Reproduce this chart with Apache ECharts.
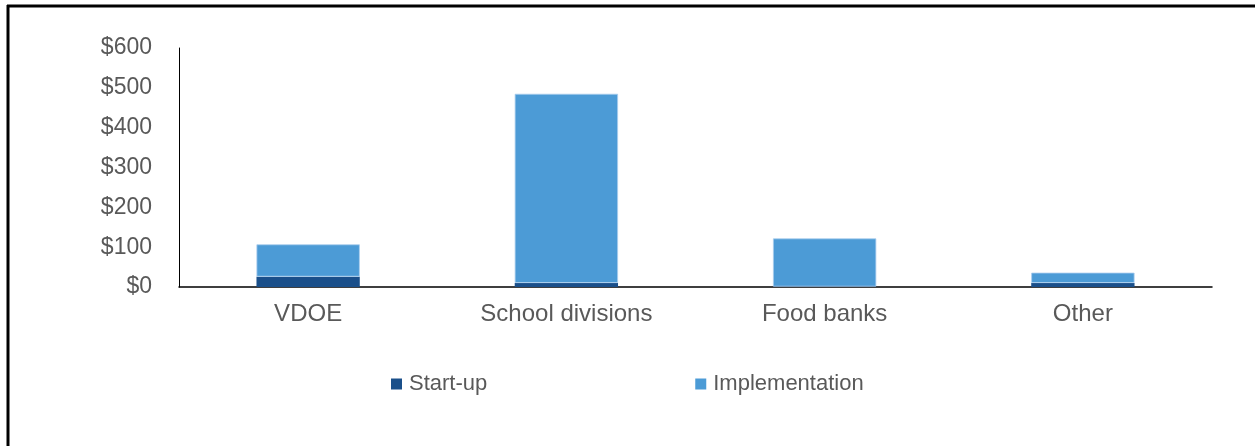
<!DOCTYPE html>
<html>
<head>
<meta charset="utf-8">
<script src="https://cdn.jsdelivr.net/npm/echarts@6/dist/echarts.min.js"></script>
<style>
  html, body { margin: 0; padding: 0; background: #fff; }
  #chart { width: 1255px; height: 446px; }
</style>
</head>
<body>
<div id="chart"></div>
<script>
// Spending by recipient, in dollars
const categories = ['VDOE', 'School divisions', 'Food banks', 'Other'];
const startUp = [26, 10, 1, 10];
const implementation = [81, 475, 121, 26];
const yTicks = [0, 100, 200, 300, 400, 500, 600];

const chart = echarts.init(document.getElementById('chart'), null, { renderer: 'canvas' });
const font = 'Liberation Sans, Arial, sans-serif';
const labelColor = '#595959';

chart.setOption({
  animation: false,
  backgroundColor: '#ffffff',
  textStyle: { fontFamily: font },
  graphic: [
    // frame lines along the top and left edges
    { type: 'line', shape: { x1: 7, y1: 6, x2: 1255, y2: 6 }, style: { stroke: '#000', lineWidth: 3 } },
    { type: 'line', shape: { x1: 8, y1: 5, x2: 8, y2: 446 }, style: { stroke: '#000', lineWidth: 3 } }
  ],
  grid: { left: 179, right: 43, top: 48, bottom: 159, containLabel: false },
  legend: {
    left: 386,
    top: 368,
    itemWidth: 11,
    itemHeight: 11,
    itemGap: 208,
    icon: 'rect',
    itemStyle: { borderWidth: 0 },
    textStyle: { fontFamily: font, fontSize: 22, color: labelColor, padding: [0, 0, 0, 2] },
    data: ['Start-up', 'Implementation']
  },
  xAxis: {
    type: 'category',
    data: categories,
    axisLine: { lineStyle: { color: '#000', width: 1.5 } },
    axisTick: { show: false },
    axisLabel: { fontFamily: font, fontSize: 24, color: labelColor, margin: 15 }
  },
  yAxis: {
    type: 'value',
    min: yTicks[0],
    max: yTicks[yTicks.length - 1],
    interval: 100,
    splitLine: { show: false },
    axisLine: { show: true, lineStyle: { color: '#000', width: 1 } },
    axisTick: { show: false },
    axisLabel: {
      fontFamily: font, fontSize: 23, color: labelColor, margin: 27,
      formatter: v => '$' + v
    }
  },
  series: [
    {
      name: 'Start-up', type: 'bar', stack: 'total', data: startUp,
      barWidth: '40%',
      itemStyle: { color: '#1a4f8a' }
    },
    {
      name: 'Implementation', type: 'bar', stack: 'total', data: implementation,
      barWidth: '40%',
      itemStyle: { color: '#4c9bd6', borderColor: '#a9cdee', borderWidth: 0.8 }
    }
  ]
});
</script>
</body>
</html>
